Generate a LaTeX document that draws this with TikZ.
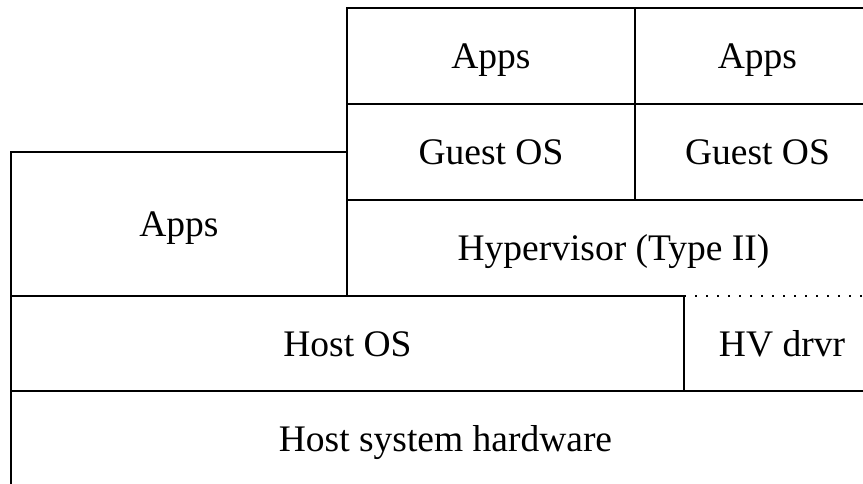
\documentclass[tikz,border=0pt]{standalone}
\usepackage{fontspec}
\setmainfont{Liberation Serif}
\usetikzlibrary{positioning}
\begin{document}
\begin{tikzpicture}[x=1pt,y=-1pt,line width=2pt,
layer/.style={rectangle,inner sep=0pt,outer sep=0pt,anchor=north west,
  text height=25pt,text depth=0pt,font=\fontsize{37.5}{45}\selectfont},
box/.style={layer,draw}]
\useasboundingbox (0,0) rectangle (863,484);
\node[box,minimum width=869pt,minimum height=95pt] (hw) at (11,391) {Host system hardware};
\node[box,minimum width=673pt,minimum height=95pt] (host) at (11,296) {Host OS};
\node[layer,minimum width=196pt,minimum height=95pt] (drvr) at (684,296) {HV drvr};
\node[box,minimum width=336pt,minimum height=144pt] (happs) at (11,152) {Apps};
\node[layer,minimum width=533pt,minimum height=96pt] (hyp) at (347,200) {Hypervisor (Type II)};
\node[box,minimum width=288pt,minimum height=96pt] (guesta) at (347,104) {Guest OS};
\node[box,minimum width=245pt,minimum height=96pt] (guestb) at (635,104) {Guest OS};
\node[box,minimum width=288pt,minimum height=96pt] (vappsa) at (347,8) {Apps};
\node[box,minimum width=245pt,minimum height=96pt] (vappsb) at (635,8) {Apps};
\draw (hyp.north west)--(hyp.south west);
\draw[dash pattern=on 2pt off 9pt] (host.north east)--(hyp.south east);
\end{tikzpicture}
\end{document}
